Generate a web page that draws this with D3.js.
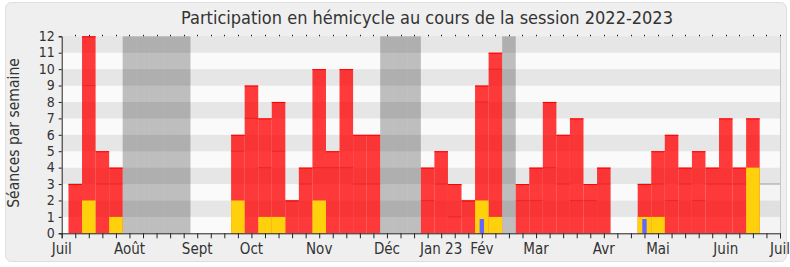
<!DOCTYPE html>
<html>
<head>
<meta charset="utf-8">
<script src="https://cdn.jsdelivr.net/npm/d3@7"></script>
<style>
  body { margin: 0; background: #ffffff; }
  text { font-family: "DejaVu Sans Condensed", "DejaVu Sans", sans-serif; font-stretch: condensed; fill: #333; }
</style>
</head>
<body>
<div id="chart"></div>
<script>
(function(){

// weekly slots, 0 = week of 27 june 2022
var presences = [3,12,5,4,0,0,0,0,0,0,0,0,6,9,7,8,2,4,10,5,10,6,6,0,0,0,4,5,3,2,9,11,0,3,4,8,6,7,3,4,0,0,3,5,6,4,5,4,7,4,7,0,0];
var interventions = [0,2,0,1,0,0,0,0,0,0,0,0,2,0,1,1,0,0,2,0,0,0,0,0,0,0,0,0,0,0,2,1,0,0,0,0,0,0,0,0,0,0,1,1,0,0,0,0,0,0,4,0,0];
var questions = [0,0,0,0,0,0,0,0,0,0,0,0,0,0,0,0,0,0,0,0,0,0,0,0,0,0,0,0,0,0,0.87,0,0,0,0,0,0,0,0,0,0,0,0.87,0,0,0,0,0,0,0,0,0,0];
var mediane = [3,9,3,3,0,0,0,0,0,0,0,0,5,7,4,5,2,3,4,4,4,3,3,0,0,0,2,3,1,2,8,10,0,2,2,4,3,2,2,3,0,0,3,3,2,3,2,3,3,3,3,3,3];
var vacances = [4,5,6,7,8,23,24,25,32];
var moisLabels = ["Juil","Août","Sept","Oct","Nov","Déc","Jan 23","Fév","Mar","Avr","Mai","Juin","Juil"];
var moisSemaines = [0,5,10,14,19,24,28,31,35,40,44,49,53];
var yTicks = [0,1,2,3,4,5,6,7,8,9,10,11,12];

var width = 790, height = 267;
var nbSlots = 53;

var svg = d3.select("#chart")
  .append("svg")
    .attr("width", width)
    .attr("height", height);

// frame
svg.append("rect")
    .attr("x", 5.5).attr("y", 2.5)
    .attr("width", 781).attr("height", 259)
    .attr("rx", 6)
    .attr("fill", "#efefef")
    .attr("stroke", "#dedede");

var x = d3.scaleLinear().domain([0, nbSlots]).range([61.7, 780]);
var y = d3.scaleLinear().domain([0, 12]).range([233.3, 36.3]);
var slot = x(1) - x(0);

// background stripes
svg.selectAll("rect.band")
  .data(d3.range(12))
  .enter()
  .append("rect")
    .attr("class", "band")
    .attr("x", x(0))
    .attr("y", function(d){ return y(d + 1) })
    .attr("width", x(nbSlots) - x(0))
    .attr("height", function(d){ return y(d) - y(d + 1) })
    .attr("fill", function(d){ return d % 2 ? "#e6e6e6" : "#fafafa" });

// median : light area + horizontal segments, behind the bars
function left(i){ return Math.max(x(0), x(i + 0.5)) }
function right(i){ return Math.min(x(nbSlots), x(i + 1.5)) }
svg.selectAll("rect.med")
  .data(d3.range(nbSlots).filter(function(i){ return mediane[i] > 0 }))
  .enter()
  .append("rect")
    .attr("x", left)
    .attr("y", function(i){ return y(mediane[i]) })
    .attr("width", function(i){ return right(i) - left(i) })
    .attr("height", function(i){ return y(0) - y(mediane[i]) })
    .attr("fill", "#000")
    .attr("opacity", 0.025);
svg.selectAll("line.med")
  .data(d3.range(nbSlots).filter(function(i){ return mediane[i] > 0 }))
  .enter()
  .append("line")
    .attr("x1", left)
    .attr("x2", right)
    .attr("y1", function(i){ return y(mediane[i]) })
    .attr("y2", function(i){ return y(mediane[i]) })
    .attr("stroke", "#000")
    .attr("stroke-opacity", 0.28)
    .attr("stroke-width", 1.2);

// holidays
svg.selectAll("rect.vac")
  .data(vacances)
  .enter()
  .append("rect")
    .attr("class", "vac")
    .attr("x", function(d){ return x(d + 0.5) })
    .attr("y", y(12))
    .attr("width", slot)
    .attr("height", y(0) - y(12))
    .attr("fill", "#000")
    .attr("opacity", 0.24);

// presences
var bars = d3.range(nbSlots).filter(function(i){ return presences[i] > 0 });
svg.selectAll("rect.pres")
  .data(bars)
  .enter()
  .append("rect")
    .attr("class", "pres")
    .attr("x", function(i){ return x(i + 0.5) })
    .attr("y", function(i){ return y(presences[i]) })
    .attr("width", slot)
    .attr("height", function(i){ return y(0) - y(presences[i]) })
    .attr("fill", "#ff0000")
    .attr("opacity", 0.77);
svg.selectAll("line.top")
  .data(bars)
  .enter()
  .append("line")
    .attr("x1", function(i){ return x(i + 0.5) })
    .attr("x2", function(i){ return x(i + 1.5) })
    .attr("y1", function(i){ return y(presences[i]) + 0.5 })
    .attr("y2", function(i){ return y(presences[i]) + 0.5 })
    .attr("stroke", "#ff0000");

// interventions
svg.selectAll("rect.inter")
  .data(d3.range(nbSlots).filter(function(i){ return interventions[i] > 0 }))
  .enter()
  .append("rect")
    .attr("x", function(i){ return x(i + 0.5) })
    .attr("y", function(i){ return y(interventions[i]) })
    .attr("width", slot)
    .attr("height", function(i){ return y(0) - y(interventions[i]) })
    .attr("fill", "#ffd00c");

// questions
svg.selectAll("rect.quest")
  .data(d3.range(nbSlots).filter(function(i){ return questions[i] > 0 }))
  .enter()
  .append("rect")
    .attr("x", function(i){ return x(i + 1) - 2.2 })
    .attr("y", function(i){ return y(questions[i]) })
    .attr("width", 4.4)
    .attr("height", function(i){ return y(0) - y(questions[i]) })
    .attr("fill", "#6464ff");

// right border
svg.append("line")
    .attr("x1", x(nbSlots) + 0.5).attr("x2", x(nbSlots) + 0.5)
    .attr("y1", y(12)).attr("y2", y(0))
    .attr("stroke", "#c8c8c8");

// top dotted ticks
svg.selectAll("line.tt")
  .data(d3.range(1, nbSlots + 1))
  .enter()
  .append("line")
    .attr("x1", function(d){ return Math.round(x(d)) + 0.5 })
    .attr("x2", function(d){ return Math.round(x(d)) + 0.5 })
    .attr("y1", y(12) - 1.5).attr("y2", y(12))
    .attr("stroke", "#222");

// axes
var xAxis = d3.axisBottom(x)
  .tickValues(d3.range(0, nbSlots + 1))
  .tickSize(5)
  .tickFormat("");
svg.append("g")
    .attr("transform", "translate(0," + y(0) + ")")
    .call(xAxis)
    .call(function(g){ g.selectAll("path, line").attr("stroke", "#222") });

var yAxis = d3.axisLeft(y)
  .tickValues(yTicks)
  .tickSize(3)
  .tickPadding(4);
svg.append("g")
    .attr("transform", "translate(" + x(0) + ",0)")
    .call(yAxis)
    .call(function(g){
      g.selectAll("path, line").attr("stroke", "#222");
      g.selectAll("text")
        .attr("font-size", "14px")
        .attr("font-family", null)
        .attr("fill", "#333")
        .attr("dy", "0.3em");
    });

// month labels
svg.selectAll("text.mois")
  .data(moisLabels)
  .enter()
  .append("text")
    .attr("x", function(d, i){ return x(moisSemaines[i]) })
    .attr("y", 254)
    .attr("text-anchor", "middle")
    .attr("font-size", "15px")
    .text(function(d){ return d });

// title
svg.append("text")
    .attr("x", 427)
    .attr("y", 24)
    .attr("text-anchor", "middle")
    .attr("font-size", "18px")
    .text("Participation en hémicycle au cours de la session 2022-2023");

// y label
svg.append("text")
    .attr("transform", "translate(19,133) rotate(-90)")
    .attr("text-anchor", "middle")
    .attr("font-size", "15.5px")
    .text("Séances par semaine");

})();
</script>
</body>
</html>
